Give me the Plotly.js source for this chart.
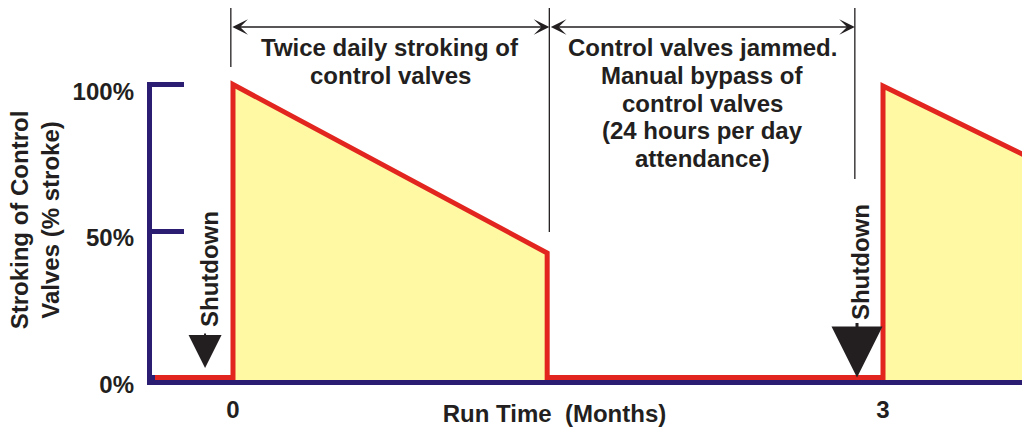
<!DOCTYPE html>
<html>
<head>
<meta charset="utf-8">
<script src="https://cdn.plot.ly/plotly-3.0.1.min.js"></script>
<style>html,body{margin:0;padding:0;background:#fff}#chart{width:1022px;height:427px}</style>
</head>
<body>
<div id="chart"></div>
<script>
// ---- data ----
const runMonths   = [-0.36, 0, 0, 1.45, 1.45, 3, 3, 3.65];   // run time (months)
const strokingPct = [0, 0, 100, 42.5, 0, 0, 99.5, 76];       // % stroke
const xTickVals   = [0, 3];
const xTickText   = ['0', '3'];
const yTickVals   = [0, 50, 100];
const yTickText   = ['0%', '50%', '100%'];
const phaseLabels = [
  ['Twice daily stroking of', 'control valves'],
  ['Control valves jammed.', 'Manual bypass of', 'control valves', '(24 hours per day', 'attendance)']
];
const phaseBounds = [-0.01, 1.46, 2.87];   // months: bracket lines
const shutdownAt  = [-0.129, 2.88];        // months

// ---- style ----
const NAVY = '#2B1D72', RED = '#E2261F', YELLOW = '#FFF9A3', INK = '#231F20';
const W = 1022, H = 427, ML = 147, MR = 0, MT = 60, MB = 47;
const xMin = -0.3969, xMax = 3.6415;
const yMin = -0.853, yMax = 108.36;
const plotH = H - MT - MB;
const paperY = px => (H - MB - px) / plotH;   // pixel row -> paper fraction
const pxPerMonth = (W - ML - MR) / (xMax - xMin);

const traces = [
  { // baseline for the fill
    x: [runMonths[0], runMonths[runMonths.length - 1]],
    y: [yMin, yMin],
    mode: 'lines', line: {width: 0, color: 'rgba(0,0,0,0)'},
    hoverinfo: 'skip', showlegend: false
  },
  {
    x: runMonths, y: strokingPct,
    mode: 'lines', fill: 'tonexty', fillcolor: YELLOW,
    line: {color: RED, width: 5, shape: 'linear'},
    showlegend: false
  }
];

const annotations = [];
// phase texts
const lineRows = [[48, 75], [48, 75.5, 103, 130.5, 158]];
phaseLabels.forEach((lines, i) => {
  const xc = (phaseBounds[i] + phaseBounds[i + 1]) / 2;
  lines.forEach((t, j) => annotations.push({
    text: t, xref: 'x', yref: 'paper', x: xc, y: paperY(lineRows[i][j]),
    xanchor: 'center', yanchor: 'middle', showarrow: false,
    font: {size: 24, color: INK}
  }));
});
// double arrows between bracket lines
for (let i = 0; i < 2; i++) {
  annotations.push({
    text: '', xref: 'x', yref: 'paper', x: phaseBounds[i + 1], y: paperY(27),
    axref: 'x', ax: phaseBounds[i], ayref: 'pixel', ay: 0,
    showarrow: true, arrowside: 'end+start', arrowhead: 3, startarrowhead: 3,
    arrowsize: 2, startarrowsize: 2, arrowwidth: 1.3, arrowcolor: INK
  });
}
// shutdown labels + arrows
const shutText = [{x: -0.111, y: 37.0}, {x: 2.894, y: 39.4}];
const shutArrow = [{y: 3.2, ay: -36, w: 2, s: 3.3}, {y: 0, ay: -56, w: 3, s: 3.4}];
for (let i = 0; i < 2; i++) {
  annotations.push({
    text: 'Shutdown', xref: 'x', yref: 'y', x: shutText[i].x, y: shutText[i].y,
    textangle: -90, showarrow: false, font: {size: 24, color: INK}
  });
  annotations.push({
    text: '', xref: 'x', yref: 'y', x: shutdownAt[i], y: shutArrow[i].y,
    ax: 0, ay: shutArrow[i].ay, showarrow: true, arrowhead: 2,
    arrowwidth: shutArrow[i].w, arrowsize: shutArrow[i].s, arrowcolor: INK
  });
}

const shapes = [
  // y axis line (bracket)
  {type: 'line', xref: 'x', yref: 'y', x0: xMin + 2.5 / pxPerMonth, x1: xMin + 2.5 / pxPerMonth,
   y0: yMin, y1: 100, line: {color: NAVY, width: 5}},
];
const bracketBottoms = [67, 232, 179];
phaseBounds.forEach((b, i) => shapes.push({
  type: 'line', xref: 'x', yref: 'paper', x0: b, x1: b,
  y0: paperY(8), y1: paperY(bracketBottoms[i]), line: {color: INK, width: 1.3}
}));

const layout = {
  width: W, height: H,
  margin: {l: ML, r: MR, t: MT, b: MB, pad: 0},
  paper_bgcolor: '#fff', plot_bgcolor: '#fff',
  font: {family: '"Liberation Sans", Arial, sans-serif', size: 24, color: INK, weight: 'bold'},
  showlegend: false,
  xaxis: {
    range: [xMin, xMax], tickmode: 'array', tickvals: xTickVals, ticktext: xTickText,
    ticks: '', showgrid: false, zeroline: false,
    showline: true, linecolor: NAVY, linewidth: 5,
    ticklabelstandoff: 4,
    tickfont: {size: 24, color: INK},
    title: {text: 'Run Time\u00A0\u00A0(Months)' + '\u00A0'.repeat(9) + '\u200B', font: {size: 24, color: INK}, standoff: 10}
  },
  yaxis: {
    range: [yMin, yMax], tickmode: 'array', tickvals: yTickVals, ticktext: yTickText,
    ticks: 'inside', ticklen: 37, tickwidth: 5, tickcolor: NAVY,
    layer: 'below traces',
    showgrid: false, zeroline: false, showline: false,
    ticklabelstandoff: 12, ticklabelshift: 7,
    tickfont: {size: 24, color: INK},
    title: {text: 'Stroking of Control<br>Valves (% stroke)', font: {size: 24, color: INK}, standoff: 6}
  },
  annotations: annotations,
  shapes: shapes
};

Plotly.newPlot('chart', traces, layout, {staticPlot: true, displayModeBar: false});
</script>
</body>
</html>
